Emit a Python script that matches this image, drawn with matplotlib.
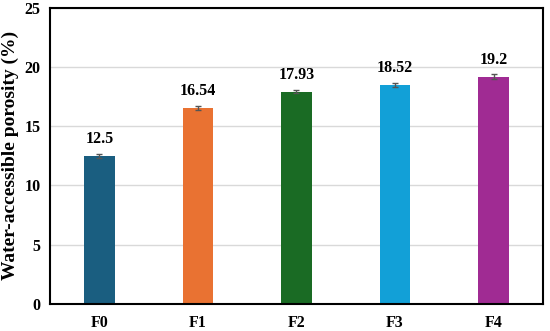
import matplotlib.pyplot as plt

# data
samples = ["F0", "F1", "F2", "F3", "F4"]
porosity = [12.5, 16.54, 17.93, 18.52, 19.2]
errors = [0.15, 0.2, 0.15, 0.18, 0.2]
labels = ["12.5", "16.54", "17.93", "18.52", "19.2"]
colors = ["#1a5e80", "#e97232", "#1a6b24", "#12a0d7", "#a02b93"]

plt.rcParams["font.family"] = ["Liberation Serif", "DejaVu Serif"]
plt.rcParams["font.weight"] = "bold"

fig, ax = plt.subplots(figsize=(5.5, 3.31), dpi=100)
fig.subplots_adjust(left=0.091, right=0.987, top=0.976, bottom=0.082)

x = range(len(samples))
ax.bar(x, porosity, width=0.31, color=colors, zorder=2,
       yerr=errors, error_kw=dict(ecolor="#555555", elinewidth=1, capsize=2.5, capthick=1))

for xi, v, lab in zip(x, porosity, labels):
    ax.text(xi, v + 0.75, lab, ha="center", va="bottom", fontsize=11.5, fontweight="bold")

ax.set_xlim(-0.5, 4.5)
ax.set_ylim(0, 25)
ax.set_yticks([0, 5, 10, 15, 20, 25])
ax.set_xticks(list(x))
ax.set_xticklabels(samples)
ax.tick_params(axis="both", length=0, labelsize=11.5, pad=8)
ax.tick_params(axis="y", pad=7)
ax.yaxis.grid(True, color="#d9d9d9", linewidth=1, zorder=0)
ax.set_axisbelow(True)

for s in ax.spines.values():
    s.set_linewidth(1.5)
    s.set_color("black")

ax.set_ylabel("Water-accessible porosity (%)", fontsize=14, fontweight="bold", labelpad=4)

plt.savefig("out.png", dpi=100)
